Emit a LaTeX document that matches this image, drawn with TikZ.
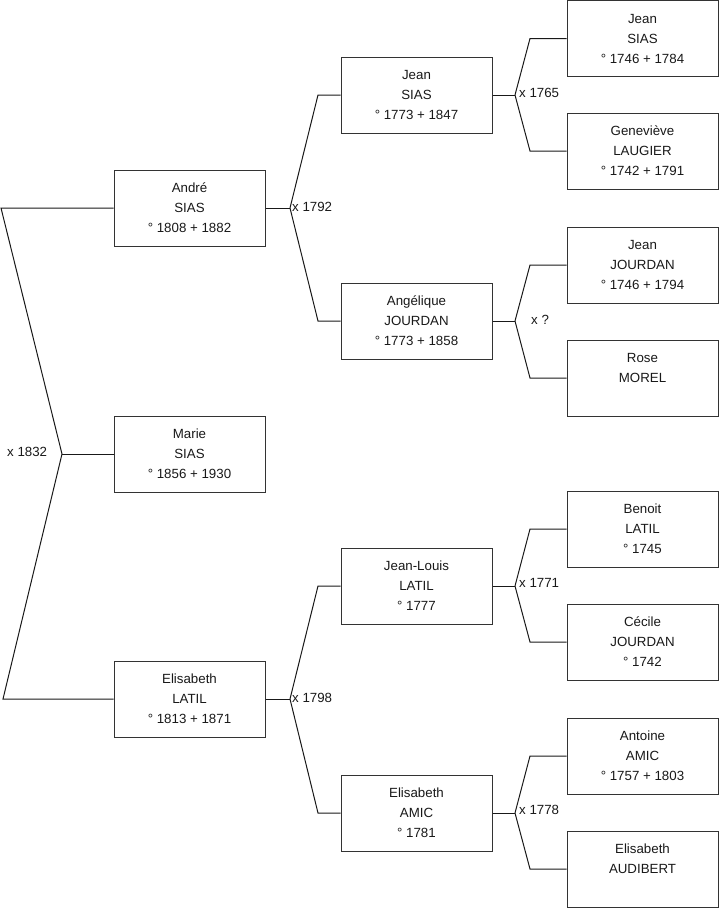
\documentclass[tikz,border=0pt]{standalone}
\usepackage{fontspec}
\setmainfont{Liberation Sans}
\begin{document}
\begin{tikzpicture}[x=1pt,y=-1pt,
  person/.style={draw=black!80, line width=1pt, minimum width=151pt, minimum height=76pt,
    inner sep=0pt, align=center, font=\fontsize{13.3}{20}\selectfont, text=black!90, fill=white},
  link/.style={draw=black!90, line width=1pt},
  marr/.style={anchor=west, inner sep=0pt, font=\fontsize{13.3}{16}\selectfont, text=black!90}]
\useasboundingbox (0,0) rectangle (719,908);
% column 1
\node[person] (andre) at (189.5,208) {André\\SIAS\\° 1808 + 1882};
\node[person] (marie) at (189.5,454) {Marie\\SIAS\\° 1856 + 1930};
\node[person] (elatil) at (189.5,699) {Elisabeth\\LATIL\\° 1813 + 1871};
% column 2
\node[person] (jean2) at (416.5,95) {Jean\\SIAS\\° 1773 + 1847};
\node[person] (angel) at (416.5,321) {Angélique\\JOURDAN\\° 1773 + 1858};
\node[person] (jlouis) at (416.5,586) {Jean-Louis\\LATIL\\° 1777};
\node[person] (eamic) at (416.5,813) {Elisabeth\\AMIC\\° 1781};
% column 3
\node[person] (jean3) at (642.5,38.5) {Jean\\SIAS\\° 1746 + 1784};
\node[person] (genev) at (642.5,151) {Geneviève\\LAUGIER\\° 1742 + 1791};
\node[person] (jjourdan) at (642.5,265) {Jean\\JOURDAN\\° 1746 + 1794};
\node[person] (rose) at (642.5,378) {Rose\\MOREL\\~};
\node[person] (benoit) at (642.5,529) {Benoit\\LATIL\\° 1745};
\node[person] (cecile) at (642.5,642) {Cécile\\JOURDAN\\° 1742};
\node[person] (antoine) at (642.5,756) {Antoine\\AMIC\\° 1757 + 1803};
\node[person] (audib) at (642.5,869) {Elisabeth\\AUDIBERT\\~};
% leftmost couple
\coordinate (lt) at (1,208);
\coordinate (lv) at (62,454);
\coordinate (lb) at (3,699);
\draw[link] (andre.west) -- (lt) -- (lv) -- (lb) -- (elatil.west);
\draw[link] (lv) -- (marie.west);
\node[marr] (m1832) at (7,452) {x 1832};
% André parents
\coordinate (v1) at (290,208);
\draw[link] (andre.east) -- (v1);
\draw[link] (v1) -- (318,95) -- (jean2.west);
\draw[link] (v1) -- (318,321) -- (angel.west);
\node[marr] (m1792) at (292,207) {x 1792};
% Elisabeth LATIL parents
\coordinate (v2) at (290,699);
\draw[link] (elatil.east) -- (v2);
\draw[link] (v2) -- (318,586) -- (jlouis.west);
\draw[link] (v2) -- (318,813) -- (eamic.west);
\node[marr] (m1798) at (292,698) {x 1798};
% Jean SIAS parents
\coordinate (v3) at (515,95);
\draw[link] (jean2.east) -- (v3);
\draw[link] (v3) -- (530,38.5) -- (jean3.west);
\draw[link] (v3) -- (530,151) -- (genev.west);
\node[marr] (m1765) at (519,93) {x 1765};
% Angélique parents
\coordinate (v4) at (515,321);
\draw[link] (angel.east) -- (v4);
\draw[link] (v4) -- (530,265) -- (jjourdan.west);
\draw[link] (v4) -- (530,378) -- (rose.west);
\node[marr] (mq) at (531,320) {x ?};
% Jean-Louis parents
\coordinate (v5) at (515,586);
\draw[link] (jlouis.east) -- (v5);
\draw[link] (v5) -- (530,529) -- (benoit.west);
\draw[link] (v5) -- (530,642) -- (cecile.west);
\node[marr] (m1771) at (519,583) {x 1771};
% Elisabeth AMIC parents
\coordinate (v6) at (515,813);
\draw[link] (eamic.east) -- (v6);
\draw[link] (v6) -- (530,756) -- (antoine.west);
\draw[link] (v6) -- (530,869) -- (audib.west);
\node[marr] (m1778) at (519,810) {x 1778};
\end{tikzpicture}
\end{document}
